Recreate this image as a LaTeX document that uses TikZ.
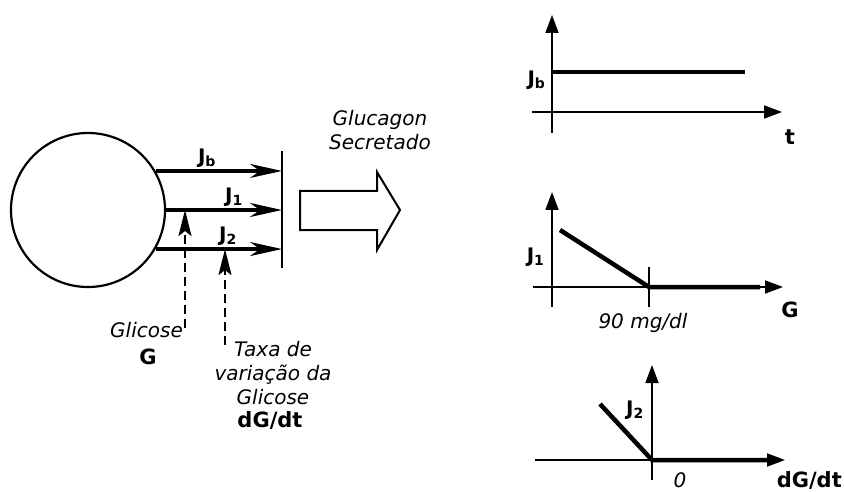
\documentclass[tikz,border=0pt]{standalone}
\usepackage{fontspec}
\setmainfont{DejaVu Sans}
\usetikzlibrary{arrows.meta,positioning}

\begin{document}
\begin{tikzpicture}[x=1pt, y=1pt,
    flow/.style={-{Stealth[length=32pt, width=14pt, inset=10pt]}, line width=3.2pt},
    sensor/.style={-{Stealth[length=26pt, width=13pt, inset=5pt]}, line width=2pt, dash pattern=on 9pt off 5pt},
    axis/.style={-{Triangle[length=18pt, width=13pt]}, line width=1.8pt},
    trace/.style={line width=4.5pt},
    flux/.style={font=\fontsize{20}{20}\selectfont\bfseries},
    lab/.style={font=\fontsize{20}{24}\selectfont\itshape, align=center},
    var/.style={font=\fontsize{21}{24}\selectfont\bfseries}
]
\useasboundingbox (0,0) rectangle (844,491);

% Cell and secretion fluxes
\node[draw, circle, line width=2.2pt, minimum size=154pt, inner sep=0pt] (cell) at (88,281) {};
\coordinate (bartop) at (282,340);
\coordinate (barbot) at (282,223);
\draw[line width=2.4pt] (bartop) -- (barbot);

\draw[flow] (cell.30) -- (cell.30 -| bartop);
\draw[flow] (cell.east) -- (cell.east -| bartop);
\draw[flow] (cell.-30) -- (cell.-30 -| bartop);

\node[flux] (lb) at (207,333) {J\textsubscript{b}};
\node[flux] (l1) at (234,294) {J\textsubscript{1}};
\node[flux] (l2) at (228,255) {J\textsubscript{2}};

% Inputs
\coordinate (gin) at (185,163);
\coordinate (din) at (225,146);
\draw[sensor] (gin) -- (gin |- cell.east);
\draw[sensor] (din) -- (din |- cell.-30);

\node[lab, anchor=east, inner xsep=1pt] (glic) at (184,161) {Glicose};
\node[var] (gsym) at (148,134) {G};
\node[lab] (taxa) at (273,118) {Taxa de\\variação da\\Glicose};
\node[var] (dsym) at (270,71) {dG/dt};

% Output arrow
\draw[line width=2pt] (300,300) -- (377,300) -- (377,319) -- (400,281)
    -- (377,241) -- (377,261) -- (300,261) -- cycle;
\node[lab] (gluc) at (380,361) {Glucagon\\Secretado};

% Basal flux vs time
\draw[axis] (552,358) -- (552,476);
\draw[axis] (532,379) -- (782,379);
\draw[trace] (552,419) -- (745,419);
\node[flux, anchor=east] (gb) at (549,411) {J\textsubscript{b}};
\node[var] (tax) at (790,354) {t};

% J1 vs glucose
\draw[axis] (552,184) -- (552,299);
\draw[axis] (533,204) -- (783,204);
\draw[line width=1.8pt] (649,184) -- (649,224);
\draw[trace] (560,261) -- (649,204) -- (760,204);
\node[flux, anchor=east] (g1) at (548,234) {J\textsubscript{1}};
\node[var] (gax) at (790,181) {G};
\node[lab] (thr) at (643,168) {90 mg/dl};

% J2 vs dG/dt
\draw[axis] (652,11) -- (652,126);
\draw[axis] (535,31) -- (785,31);
\draw[trace] (600,87) -- (652,31) -- (767,31);
\node[flux] (g2) at (635,81) {J\textsubscript{2}};
\node[lab, anchor=base, inner sep=0pt] (zero) at (680,4) {0};
\node[var, anchor=base east, inner sep=0pt] (dax) at (842,4) {dG/dt};

\end{tikzpicture}
\end{document}
